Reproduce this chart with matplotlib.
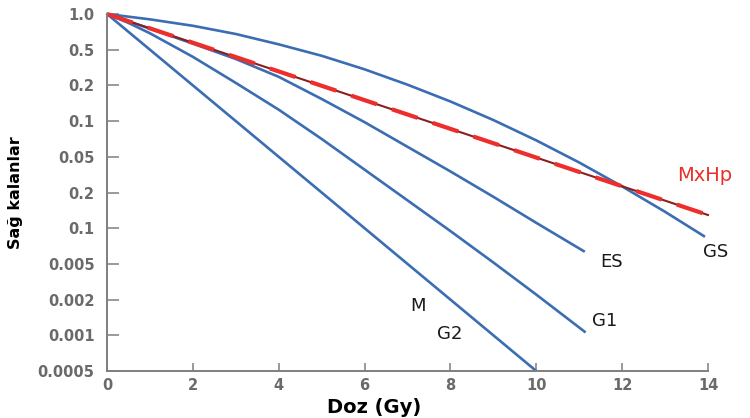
import matplotlib.pyplot as plt

# y axis labels as printed on the original (evenly spaced levels, top to bottom)
y_labels = ['1.0', '0.5', '0.2', '0.1', '0.05', '0.2', '0.1', '0.005', '0.002', '0.001', '0.0005']
x_ticks = [0, 2, 4, 6, 8, 10, 12, 14]

# curves: dose (Gy) and position on the y scale (0 = top label, 10 = bottom label)
m_g2_dose = [0, 10]
m_g2_level = [0, 10]

g1_dose = [0, 0.5, 1, 2, 3, 4, 5, 6, 7, 8, 9, 10, 11.15]
g1_level = [0, 0.25, 0.54, 1.2, 1.93, 2.68, 3.5, 4.36, 5.22, 6.08, 6.96, 7.86, 8.92]

es_dose = [0, 1, 2, 3, 4, 5, 6, 7, 8, 9, 10, 11.13]
es_level = [0, 0.41, 0.83, 1.26, 1.76, 2.38, 3.03, 3.72, 4.41, 5.12, 5.85, 6.66]

gs_dose = [0, 1, 2, 3, 4, 5, 6, 7, 8, 9, 10, 11, 12, 13, 13.93]
gs_level = [0, 0.15, 0.33, 0.56, 0.85, 1.17, 1.55, 1.98, 2.45, 2.97, 3.54, 4.16, 4.83, 5.54, 6.24]

mxhp_dose = [0, 14]
mxhp_level = [0, 5.63]

blue = '#3b6db3'
gray = '#7f7f7f'

fig = plt.figure(figsize=(7.5, 4.18), dpi=100)
ax = fig.add_axes([0.1427, 0.1124, 0.8013, 0.8541])

for d, l in [(m_g2_dose, m_g2_level), (g1_dose, g1_level), (es_dose, es_level), (gs_dose, gs_level)]:
    ax.plot(d, l, color=blue, lw=1.9, clip_on=False, solid_capstyle='butt',
            solid_joinstyle='round')

ax.plot(mxhp_dose, mxhp_level, color='#8b1e1e', lw=1.5, clip_on=False)
ax.plot(mxhp_dose, mxhp_level, color='#ee2e2a', lw=3, dashes=(6.5, 3.8), clip_on=False)

# curve labels
ax.text(13.28, 4.51, 'MxHp', color='#e8302a', fontsize=14, va='center', ha='left')
ax.text(13.88, 6.67, 'GS', color='#1a1a1a', fontsize=13, va='center', ha='left')
ax.text(11.48, 6.95, 'ES', color='#1a1a1a', fontsize=13, va='center', ha='left')
ax.text(11.3, 8.6, 'G1', color='#1a1a1a', fontsize=13, va='center', ha='left')
ax.text(7.06, 8.18, 'M', color='#1a1a1a', fontsize=13, va='center', ha='left')
ax.text(7.69, 8.96, 'G2', color='#1a1a1a', fontsize=13, va='center', ha='left')

ax.set_xlim(0, 14)
ax.set_ylim(len(y_labels) - 1, 0)
ax.set_xticks(x_ticks)
ax.set_yticks(range(len(y_labels)))
ax.set_yticklabels(y_labels)

for s in ['top', 'right']:
    ax.spines[s].set_visible(False)
for s in ['left', 'bottom']:
    ax.spines[s].set_color(gray)
    ax.spines[s].set_linewidth(1.4)

ax.tick_params(axis='y', direction='in', length=8.5, width=1.1, color=gray, pad=9,
               labelsize=10.5, labelcolor='#6a6a6a')
ax.tick_params(axis='x', direction='in', length=5.5, width=1.1, color=gray, pad=5,
               labelsize=10.5, labelcolor='#6a6a6a')
for lab in ax.get_xticklabels() + ax.get_yticklabels():
    lab.set_fontweight('bold')

ax.set_xlabel('Doz (Gy)', fontsize=14, fontweight='bold', color='black')
ax.xaxis.set_label_coords(0.444, -0.075)
ax.set_ylabel('Sağ kalanlar', fontsize=11.5, fontweight='bold', color='black')
ax.yaxis.set_label_coords(-0.14, 0.5)

fig.savefig('out.png', dpi=100)
